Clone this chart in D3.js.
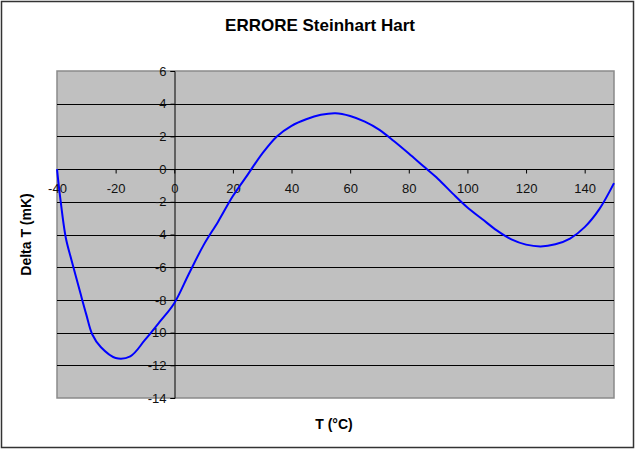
<!DOCTYPE html>
<html>
<head>
<meta charset="utf-8">
<script src="https://cdn.jsdelivr.net/npm/d3@7"></script>
<style>
  body { margin: 0; background: #fff; }
  text { font-family: "Liberation Sans", Arial, sans-serif; }
</style>
</head>
<body>
<div id="chart"></div>
<script>
// temperature (°C) and Steinhart-Hart error (mK)
const temps = [-40, -39, -37, -35, -32, -30, -28, -25, -20, -15, -10, -5, 0, 5, 10, 15, 20, 25, 30, 35,
  40, 45, 50, 55, 60, 65, 70, 75, 80, 85, 90, 95, 100, 105, 110, 115, 120, 125, 130, 135, 140, 145, 150]
const errors = [0, -1.6, -4.2, -5.6, -7.6, -8.9, -10.1, -10.9, -11.55, -11.45, -10.45, -9.35, -8.2, -6.4, -4.65, -3.2, -1.65, -0.35, 0.95, 2.0,
  2.65, 3.05, 3.32, 3.42, 3.25, 2.9, 2.4, 1.7, 0.95, 0.17, -0.6, -1.5, -2.35, -3.05, -3.75, -4.3, -4.62, -4.73, -4.6, -4.25, -3.55, -2.45, -0.86]
const xTicks = [-40, -20, 0, 20, 40, 60, 80, 100, 120, 140]
const yTicks = [-14, -12, -10, -8, -6, -4, -2, 0, 2, 4, 6]

const data = temps.map((t, i) => ({ t: t, e: errors[i] }))

const W = 640, H = 451
const plot = { left: 57, right: 614, top: 71, bottom: 398 }

const x = d3.scaleLinear().domain([-40, 150]).range([plot.left, plot.right])
const y = d3.scaleLinear().domain([-14, 6]).range([plot.bottom, plot.top])

const svg = d3.select("#chart").append("svg")
  .attr("width", W)
  .attr("height", H)

// outer chart frame
svg.append("rect")
  .attr("x", 1.5).attr("y", 1.5)
  .attr("width", 632).attr("height", 446)
  .attr("fill", "#fff")
  .attr("stroke", "#333")
  .attr("stroke-width", 1.5)

// plot area
svg.append("rect")
  .attr("x", plot.left).attr("y", plot.top)
  .attr("width", plot.right - plot.left)
  .attr("height", plot.bottom - plot.top)
  .attr("fill", "#c0c0c0")
  .attr("stroke", "#8a8a8a")
  .attr("stroke-width", 1.5)

// horizontal gridlines
svg.append("g")
  .selectAll("line")
  .data(yTicks.filter(d => d > -14 && d < 6))
  .enter()
  .append("line")
  .attr("x1", plot.left)
  .attr("x2", plot.right)
  .attr("y1", d => Math.round(y(d)) + 0.5)
  .attr("y2", d => Math.round(y(d)) + 0.5)
  .attr("stroke", "#000")
  .attr("stroke-width", 1)

const fmt = d => String(d) // plain hyphen minus like the original

// y axis through x = 0
const yAxis = svg.append("g")
  .attr("transform", "translate(" + (Math.round(x(0)) + 0.5) + ",0)")
  .call(d3.axisLeft(y).tickValues(yTicks).tickSize(4).tickPadding(4).tickFormat(fmt))
yAxis.select(".domain").attr("stroke", "#000")
yAxis.selectAll(".tick line").attr("stroke", "#000")
yAxis.selectAll("text")
  .attr("font-size", 13)
  .attr("fill", "#111")
  .style("font-family", "'Liberation Sans', Arial, sans-serif")

// x axis through y = 0
const xAxis = svg.append("g")
  .attr("transform", "translate(0," + (Math.round(y(0)) + 0.5) + ")")
  .call(d3.axisBottom(x).tickValues(xTicks).tickSize(4).tickPadding(10).tickFormat(fmt))
xAxis.select(".domain").remove()
xAxis.selectAll(".tick line").attr("stroke", "#000")
xAxis.selectAll("text")
  .attr("font-size", 13)
  .attr("fill", "#111")
  .style("font-family", "'Liberation Sans', Arial, sans-serif")

// error curve
svg.append("path")
  .datum(data)
  .attr("fill", "none")
  .attr("stroke", "#0000ff")
  .attr("stroke-width", 2)
  .attr("d", d3.line()
    .x(d => x(d.t))
    .y(d => y(d.e))
    .curve(d3.curveCatmullRom))

// titles
svg.append("text")
  .attr("x", 320)
  .attr("y", 31)
  .attr("text-anchor", "middle")
  .attr("font-size", 17)
  .attr("font-weight", "bold")
  .text("ERRORE Steinhart Hart")

svg.append("text")
  .attr("x", 334)
  .attr("y", 429)
  .attr("text-anchor", "middle")
  .attr("font-size", 14)
  .attr("font-weight", "bold")
  .text("T (°C)")

svg.append("text")
  .attr("transform", "translate(31," + ((plot.top + plot.bottom) / 2) + ") rotate(-90)")
  .attr("text-anchor", "middle")
  .attr("font-size", 14)
  .attr("font-weight", "bold")
  .text("Delta T (mK)")
</script>
</body>
</html>
